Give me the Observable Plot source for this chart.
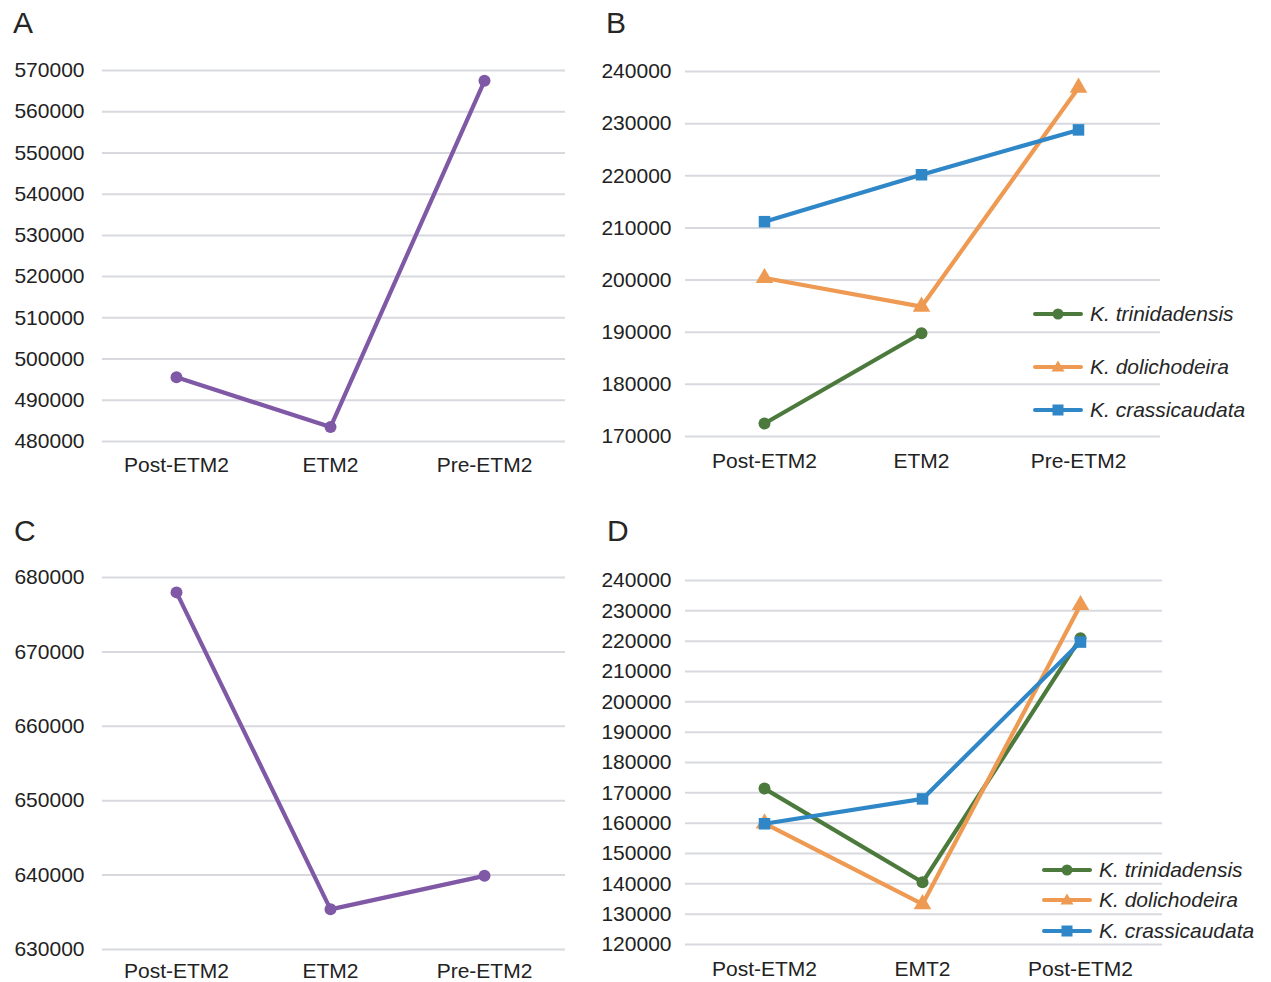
<!DOCTYPE html>
<html>
<head>
<meta charset="utf-8">
<script src="https://cdn.jsdelivr.net/npm/d3@7"></script>
<script src="https://cdn.jsdelivr.net/npm/@observablehq/plot@0.6"></script>
<style>
  body { margin: 0; background: #fff; }
  #root { position: relative; width: 1271px; height: 982px; font-family: "Liberation Sans", Arial, sans-serif; color: #262626; }
  .panel { position: absolute; }
  .letter { position: absolute; font-size: 30px; line-height: 30px; color: #262626; }
  .legend { position: absolute; font-size: 21px; font-style: italic; color: #262626; }
  .legend .row { position: absolute; display: flex; align-items: center; white-space: nowrap; }
  .legend svg { display: block; margin-right: 7px; }
</style>
</head>
<body>
<div id="root"></div>
<script>
// ---- data ----
const periodsABC = ["Post-ETM2", "ETM2", "Pre-ETM2"];
const periodsD = ["Post-ETM2", "EMT2", "Post-ETM2"];
const species = ["K. trinidadensis", "K. dolichodeira", "K. crassicaudata"];

const valuesA = [495600, 483500, 567500];
const valuesC = [678000, 635400, 639900];

const trinidadensisB = [172500, 189800, null];
const dolichodeiraB = [200400, 194900, 236900];
const crassicaudataB = [211200, 220200, 228800];

const trinidadensisD = [171400, 140500, 221000];
const dolichodeiraD = [159900, 133300, 231900];
const crassicaudataD = [159800, 168000, 219700];

const ticksA = [480000, 490000, 500000, 510000, 520000, 530000, 540000, 550000, 560000, 570000];
const ticksB = [170000, 180000, 190000, 200000, 210000, 220000, 230000, 240000];
const ticksC = [630000, 640000, 650000, 660000, 670000, 680000];
const ticksD = [120000, 130000, 140000, 150000, 160000, 170000, 180000, 190000, 200000, 210000, 220000, 230000, 240000];

// ---- styles ----
const purple = "#7f58a6";
const seriesColors = ["#4b7a3c", "#ee9a52", "#2f87c8"];
const seriesSymbols = ["circle", "triangle", "square"];
const gridColor = "#d8d9df";

const root = document.getElementById("root");

function makePanel({series, labels, ticks, left, top, width, height, mt, mb, ml, mr, padX, padY, r, xPad, insetRight}) {
  const idx = labels.map((_, i) => i);
  const marks = [
    Plot.gridY(ticks, {stroke: gridColor, strokeWidth: 2, strokeOpacity: 1})
  ];
  series.forEach(s => {
    const data = s.values.map((v, i) => ({i, v}));
    marks.push(Plot.line(data, {x: "i", y: "v", stroke: s.color, strokeWidth: 4.2, strokeLinejoin: "round", strokeLinecap: "round"}));
    marks.push(Plot.dot(data.filter(d => d.v != null), {x: "i", y: "v", fill: s.color, stroke: "none", symbol: () => s.symbol, r: s.r || r}));
  });
  const chart = Plot.plot({
    width, height,
    marginTop: mt, marginBottom: mb, marginLeft: ml, marginRight: mr,
    style: {fontSize: "21px", fontFamily: "'Liberation Sans', Arial, sans-serif", color: "#222", background: "transparent"},
    x: {type: "point", domain: idx, padding: xPad, insetRight, tickFormat: i => labels[i], tickSize: 0, tickPadding: padX, label: null},
    y: {domain: [ticks[0], ticks[ticks.length - 1]], ticks, tickFormat: d3.format("d"), tickSize: 0, tickPadding: padY, label: null},
    symbol: {type: "identity"},
    marks
  });
  chart.classList.add("panel");
  chart.style.left = left + "px";
  chart.style.top = top + "px";
  root.appendChild(chart);
}

function letter(txt, x, y) {
  const d = document.createElement("div");
  d.className = "letter";
  d.textContent = txt;
  d.style.left = x + "px";
  d.style.top = y + "px";
  root.appendChild(d);
}

function legend(x, rowsY, lineW) {
  const wrap = document.createElement("div");
  wrap.className = "legend";
  wrap.style.left = x + "px";
  wrap.style.top = "0px";
  species.forEach((name, k) => {
    const row = document.createElement("div");
    row.className = "row";
    row.style.top = (rowsY[k] - 12) + "px";
    row.style.height = "24px";
    const c = seriesColors[k];
    const h = lineW / 2;
    let m;
    if (k === 0) m = `<circle cx="${h}" cy="8" r="5.5" fill="${c}"/>`;
    else if (k === 1) m = `<path d="M${h} 1.5 L${h + 6.5} 12.5 L${h - 6.5} 12.5 Z" fill="${c}"/>`;
    else m = `<rect x="${h - 5.5}" y="2.5" width="11" height="11" fill="${c}"/>`;
    row.innerHTML = `<svg width="${lineW}" height="16"><line x1="2" x2="${lineW - 2}" y1="8" y2="8" stroke="${c}" stroke-width="4" stroke-linecap="round"/>${m}</svg><span>${name}</span>`;
    wrap.appendChild(row);
  });
  root.appendChild(wrap);
}

// Panel A
makePanel({
  series: [{values: valuesA, color: purple, symbol: "circle"}],
  labels: periodsABC, ticks: ticksA,
  left: 0, top: 0, width: 600, height: 490, mt: 70, mb: 49, ml: 102, mr: 35, padX: 16, padY: 18, r: 6,
  xPad: 0.47, insetRight: 8
});
// Panel B
makePanel({
  series: species.map((s, k) => ({values: [trinidadensisB, dolichodeiraB, crassicaudataB][k], color: seriesColors[k], symbol: seriesSymbols[k], r: k === 0 ? 6 : 6.5})),
  labels: periodsABC, ticks: ticksB,
  left: 590, top: 0, width: 681, height: 490, mt: 71, mb: 54, ml: 95, mr: 111, padX: 17, padY: 14, r: 6,
  xPad: 0.5, insetRight: 3
});
// Panel C
makePanel({
  series: [{values: valuesC, color: purple, symbol: "circle"}],
  labels: periodsABC, ticks: ticksC,
  left: 0, top: 490, width: 600, height: 492, mt: 87, mb: 33, ml: 102, mr: 35, padX: 14, padY: 18, r: 6,
  xPad: 0.47, insetRight: 8
});
// Panel D
makePanel({
  series: species.map((s, k) => ({values: [trinidadensisD, dolichodeiraD, crassicaudataD][k], color: seriesColors[k], symbol: seriesSymbols[k], r: k === 0 ? 6 : 6.5})),
  labels: periodsD, ticks: ticksD,
  left: 590, top: 490, width: 681, height: 492, mt: 90, mb: 38, ml: 95, mr: 109, padX: 17, padY: 14, r: 6,
  xPad: 0.5, insetRight: 3
});

letter("A", 13, 8);
letter("B", 606, 8);
letter("C", 14, 516);
letter("D", 607, 516);

legend(1033, [314, 367, 410], 50);
legend(1042, [870, 900, 931], 50);
</script>
</body>
</html>
